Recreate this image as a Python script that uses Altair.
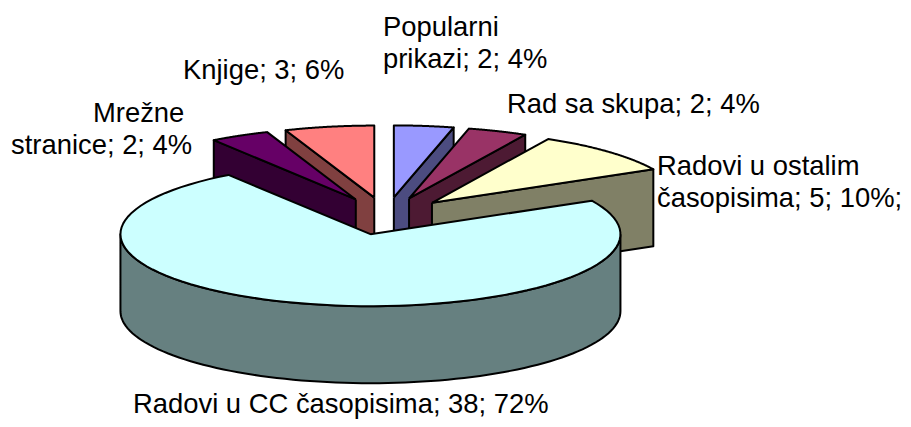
import math
import altair as alt
import pandas as pd

# ---------------- data ----------------
categories = ["Popularni prikazi", "Rad sa skupa", "Radovi u ostalim časopisima",
              "Radovi u CC časopisima", "Mrežne stranice", "Knjige"]
counts = [2, 2, 5, 38, 2, 3]
percents = [4, 4, 10, 72, 4, 6]

# label lines as printed on the chart
label_lines = ["Popularni", "prikazi; 2; 4%", "Rad sa skupa; 2; 4%",
               "Radovi u ostalim", "časopisima; 5; 10%;",
               "Radovi u CC časopisima; 38; 72%",
               "Mrežne", "stranice; 2; 4%", "Knjige; 3; 6%"]

# ---------------- styles / layout ----------------
top_colors = ["#9999FF", "#993366", "#FFFFCC", "#CCFFFF", "#660066", "#FF8080"]
side_colors = ["#4C4C80", "#4D1A33", "#808066", "#668080", "#330033", "#804040"]

label_x = [383, 383, 507, 657, 657, 133, 93, 11, 183]
label_y = [36, 68, 113, 175, 207, 413, 122, 154, 79]

CX, CY = 386, 216      # pie centre (page px)
RX, RY = 250, 72       # ellipse radii
EXPLODE = 65           # explosion distance
DEPTH = 77             # pie thickness
N = 90                 # arc resolution

W, H = 895, 411
xs = alt.Scale(domain=[8, 8 + W], nice=False, zero=False)
ys = alt.Scale(domain=[8, 8 + H], nice=False, zero=False, reverse=True)

df = pd.DataFrame({"category": categories, "count": counts,
                   "percent": percents, "idx": list(range(len(categories)))})

K = EXPLODE * RY / RX


def geom(i):
    return (alt.Chart(df)
            .transform_joinaggregate(total="sum(count)")
            .transform_window(cum="sum(count)", sort=[alt.SortField("idx")], frame=[None, 0])
            .transform_filter(alt.datum.idx == i)
            .transform_calculate(a0="2*PI*(datum.cum-datum.count)/datum.total")
            .transform_calculate(a1="2*PI*datum.cum/datum.total")
            .transform_calculate(mid="(datum.a0+datum.a1)/2")
            .transform_calculate(ox=f"{CX}+{EXPLODE}*sin(datum.mid)")
            .transform_calculate(oy=f"{CY}-{K}*cos(datum.mid)"))


def enc(ch, detail=None):
    kw = dict(x=alt.X("px:Q", scale=xs, axis=None),
              y=alt.Y("py:Q", scale=ys, axis=None),
              order=alt.Order("t:Q"))
    if detail:
        kw["detail"] = alt.Detail(detail)
    return ch.encode(**kw)


def line_style(fill):
    return dict(fill=fill, stroke="black", strokeWidth=2, strokeJoin="round")


def top_layer(i):
    ch = (geom(i)
          .transform_calculate(t=f"sequence(0,{N + 3})")
          .transform_flatten(["t"])
          .transform_calculate(rim=f"(datum.t>=1 && datum.t<={N + 1}) ? 1 : 0")
          .transform_calculate(ang=f"datum.a0+(datum.a1-datum.a0)*(datum.t-1)/{N}")
          .transform_calculate(px=f"datum.ox+datum.rim*{RX}*sin(datum.ang)")
          .transform_calculate(py=f"datum.oy-datum.rim*{RY}*cos(datum.ang)")
          .mark_line(**line_style(top_colors[i])))
    return enc(ch)


def radial_layer(i):
    ch = (geom(i)
          .transform_calculate(kind="[0,1]")
          .transform_flatten(["kind"])
          .transform_filter("(datum.kind==0 && sin(datum.a0) < -1e-6) || (datum.kind==1 && sin(datum.a1) > 1e-6)")
          .transform_calculate(wa="datum.kind==0 ? datum.a0 : datum.a1")
          .transform_calculate(t="[0,1,2,3,4]")
          .transform_flatten(["t"])
          .transform_calculate(rim="(datum.t==1 || datum.t==2) ? 1 : 0")
          .transform_calculate(dz=f"(datum.t==2 || datum.t==3) ? {DEPTH} : 0")
          .transform_calculate(px=f"datum.ox+datum.rim*{RX}*sin(datum.wa)")
          .transform_calculate(py=f"datum.oy-datum.rim*{RY}*cos(datum.wa)+datum.dz")
          .mark_line(**line_style(side_colors[i])))
    return enc(ch, "kind:N")


def outer_layer(i):
    ch = (geom(i)
          .transform_calculate(b0="max(datum.a0, PI/2)")
          .transform_calculate(b1="min(datum.a1, 3*PI/2)")
          .transform_filter("datum.b1 > datum.b0")
          .transform_calculate(t=f"sequence(0,{2 * N + 3})")
          .transform_flatten(["t"])
          .transform_calculate(ang=(f"datum.t<={N} ? datum.b0+(datum.b1-datum.b0)*datum.t/{N} : "
                                    f"(datum.t<={2 * N + 1} ? datum.b1-(datum.b1-datum.b0)*(datum.t-{N + 1})/{N} : datum.b0)"))
          .transform_calculate(dz=f"(datum.t>{N} && datum.t<={2 * N + 1}) ? {DEPTH} : 0")
          .transform_calculate(px=f"datum.ox+{RX}*sin(datum.ang)")
          .transform_calculate(py=f"datum.oy-{RY}*cos(datum.ang)+datum.dz")
          .mark_line(**line_style(side_colors[i])))
    return enc(ch)


# painter's order: back slices first
total = sum(counts)
cum = 0
mids = []
for c in counts:
    mids.append(2 * math.pi * (cum + c / 2) / total)
    cum += c
draw_order = sorted(range(len(counts)), key=lambda j: -math.cos(mids[j]))

layers = []
for i in draw_order:
    layers += [radial_layer(i), outer_layer(i), top_layer(i)]

labels = (alt.Chart(pd.DataFrame({"text": label_lines, "lx": label_x, "ly": label_y}))
          .mark_text(align="left", baseline="alphabetic", font="Liberation Sans",
                     fontSize=27.4, color="black")
          .encode(x=alt.X("lx:Q", scale=xs, axis=None),
                  y=alt.Y("ly:Q", scale=ys, axis=None),
                  text="text:N"))
layers.append(labels)

chart = (alt.layer(*layers)
         .properties(width=W, height=H, padding=0, autosize="none")
         .configure_view(stroke=None))

chart.save("out.html", embed_options={"renderer": "svg", "actions": False})
